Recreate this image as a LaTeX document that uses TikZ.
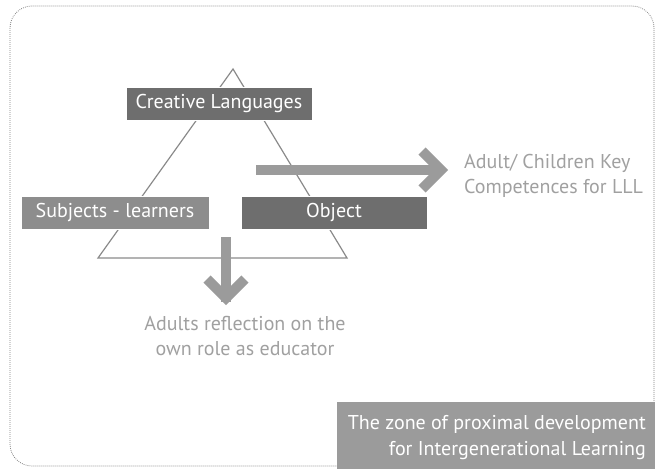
\documentclass[tikz,border=0pt]{standalone}
\usepackage{fontspec}
\setmainfont{PT Sans}
\usetikzlibrary{positioning}
\definecolor{darkbox}{HTML}{6E6E6E}
\definecolor{midbox}{HTML}{8D8D8D}
\definecolor{lightbox}{HTML}{9B9B9B}
\definecolor{linegrey}{HTML}{8A8A8A}
\definecolor{textgrey}{HTML}{A0A0A0}
\tikzset{
    labelbox/.style={
           rectangle,
           draw=white, thin,
           text=white,
           minimum height=33pt,
           inner sep=0pt,
           text centered,
           font=\fontsize{20}{24}\selectfont,
           },
    fatarrow/.style={
           draw=lightbox,
           line width=10pt,
           },
    chevron/.style={
           fatarrow,
           miter limit=4,
           line join=miter,
           },
    note/.style={
           text=textgrey,
           inner sep=0pt,
           align=left,
           font=\fontsize{20}{25}\selectfont,
           },
}

\begin{document}
\begin{tikzpicture}[x=1pt,y=-1pt]
 \useasboundingbox (0,0) rectangle (655,469);

 % dotted frame round the whole zone
 \draw[gray, line width=0.8pt, dash pattern=on 0.8pt off 1.2pt, rounded corners=22pt]
  (10,6) rectangle (654,466);

 % the triangle behind the three labels
 \coordinate (apex) at (233,69);
 \coordinate (base left) at (98,258);
 \coordinate (base right) at (347,258);
 \draw[linegrey, line width=1.2pt] (apex) -- (base left) -- (base right) -- cycle;

 % the three corner labels
 \node[labelbox, fill=darkbox, minimum width=186pt] (Creative) at (219,103.5)
  {Creative Languages};
 \node[labelbox, fill=midbox, minimum width=188pt] (Subjects) at (115,212.5)
  {Subjects - learners};
 \node[labelbox, fill=darkbox, minimum width=186pt] (Object) at (334,212.5)
  {Object};

 % arrow to the right, towards the competences
 \coordinate (comp start) at (256,170);
 \coordinate (comp tip) at (441,170);
 \node[note, anchor=west, right=23pt of comp tip, yshift=-6pt] (Competences)
  {Adult/ Children Key\\Competences for LLL};
 \draw[fatarrow] (comp start) -- ([xshift=-4pt]comp tip);
 \draw[chevron] ([shift={(-19,-19)}]comp tip) -- (comp tip) -- ([shift={(-19,19)}]comp tip);

 % arrow downwards, towards the reflection
 \coordinate (refl start) at (226,237);
 \coordinate (refl tip) at (226,298);
 \node[note, align=center, below=18pt of refl tip, xshift=19pt] (Reflection)
  {Adults reflection on the\\own role as educator};
 \draw[fatarrow] (refl start) -- ([yshift=-4pt]refl tip);
 \draw[chevron] ([shift={(-19,-19)}]refl tip) -- (refl tip) -- ([shift={(19,-19)}]refl tip);

 % title box in the lower right corner
 \fill[lightbox] (337,402) rectangle (655,469);
 \node[text=white, inner sep=0pt, align=right, anchor=north east,
  font=\fontsize{20}{26}\selectfont] (Zone) at (646,415)
  {The zone of proximal development\\for Intergenerational Learning};

\end{tikzpicture}
\end{document}
